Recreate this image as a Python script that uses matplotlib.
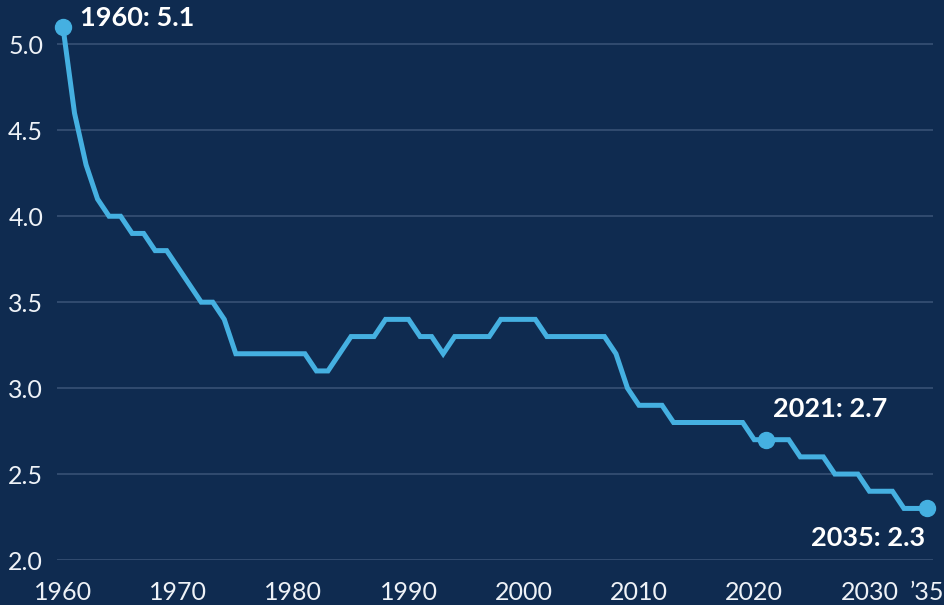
import matplotlib
matplotlib.use("Agg")
import matplotlib.pyplot as plt

# ── Data ──────────────────────────────────────────────────────────────────────
years = list(range(1960, 2036))
values = [
    5.1, 4.6, 4.3, 4.1, 4.0, 4.0, 3.9, 3.9, 3.8, 3.8,   # 1960-69
    3.7, 3.6, 3.5, 3.5, 3.4, 3.2, 3.2, 3.2, 3.2, 3.2,   # 1970-79
    3.2, 3.2, 3.1, 3.1, 3.2, 3.3, 3.3, 3.3, 3.4, 3.4,   # 1980-89
    3.4, 3.3, 3.3, 3.2, 3.3, 3.3, 3.3, 3.3, 3.4, 3.4,   # 1990-99
    3.4, 3.4, 3.3, 3.3, 3.3, 3.3, 3.3, 3.3, 3.2, 3.0,   # 2000-09
    2.9, 2.9, 2.9, 2.8, 2.8, 2.8, 2.8, 2.8, 2.8, 2.8,   # 2010-19
    2.7, 2.7, 2.7, 2.7, 2.6, 2.6, 2.6, 2.5, 2.5, 2.5,   # 2020-29
    2.4, 2.4, 2.4, 2.3, 2.3, 2.3,                       # 2030-35
]
highlight_years = [1960, 2021, 2035]
x_ticks = [1960, 1970, 1980, 1990, 2000, 2010, 2020, 2030, 2035]
x_tick_labels = ["1960", "1970", "1980", "1990", "2000", "2010", "2020", "2030", "\u201935"]
y_ticks = [2.0, 2.5, 3.0, 3.5, 4.0, 4.5, 5.0]

# ── Theming ───────────────────────────────────────────────────────────────────
COLORS = {
    "bg": "#0f2b50",
    "grid": "#3b5478",
    "line": "#45b0e1",
    "tick": "#eef2f7",
    "label": "#ffffff",
}
plt.rcParams["font.family"] = ["Lato", "DejaVu Sans"]

fig = plt.figure(figsize=(9.45, 6.05), dpi=100)
fig.patch.set_facecolor(COLORS["bg"])
ax = fig.add_axes([57 / 945, 45 / 605, 876 / 945, 550 / 605])
ax.set_facecolor(COLORS["bg"])

ax.plot(years, values, color=COLORS["line"], lw=3.6, solid_joinstyle="miter",
        zorder=3, clip_on=False)

hx = list(highlight_years)
hy = [values[years.index(y)] for y in highlight_years]
ax.plot(hx, hy, "o", color=COLORS["line"], ms=11.5, zorder=4, clip_on=False)

# annotations
offsets = {1960: (12, 6.5, "left"), 2021: (5, 22, "left"), 2035: (-1.5, -21, "right")}
for x, y in zip(hx, hy):
    dx, dy, ha = offsets[x]
    ax.annotate(f"{x}: {y}", (x, y), xytext=(dx, dy), textcoords="offset points",
                ha=ha, va="center", color=COLORS["label"], fontsize=19.5,
                fontweight="bold", zorder=5)

# axes
ax.set_xlim(1960 - 6 / 11.52, 2035 + 6 / 11.52)
ax.set_ylim(2.0, 5.2)
ax.set_xticks(x_ticks)
ax.set_xticklabels(x_tick_labels)
ax.set_yticks(y_ticks)
ax.set_yticklabels([f"{v:.1f}" for v in y_ticks])
ax.tick_params(axis="both", length=0, colors=COLORS["tick"], labelsize=18)
ax.tick_params(axis="y", pad=10)
ax.tick_params(axis="x", pad=15)
ax.grid(axis="y", color=COLORS["grid"], lw=1.1)
ax.set_axisbelow(True)
for s in ax.spines.values():
    s.set_visible(False)

fig.savefig("out.png", dpi=100, facecolor=COLORS["bg"])
